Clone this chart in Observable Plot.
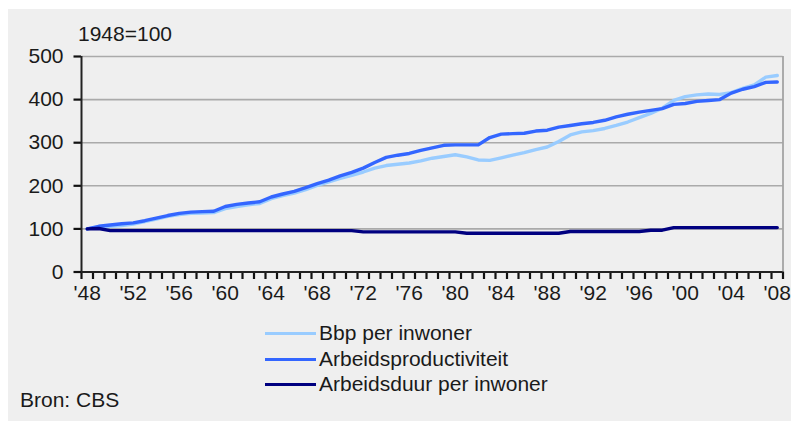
<!DOCTYPE html>
<html>
<head>
<meta charset="utf-8">
<script src="https://cdn.jsdelivr.net/npm/d3@7"></script>
<script src="https://cdn.jsdelivr.net/npm/@observablehq/plot@0.6"></script>
<style>
  html, body { margin: 0; padding: 0; background: #ffffff; }
  #wrap { position: relative; width: 791px; height: 421px; overflow: hidden; font-family: "Liberation Sans", Arial, sans-serif; color: #1a1a1a; }
  #panel { position: absolute; left: 8px; top: 9px; width: 783px; height: 412px; background: #efefef; }
  #subtitle { position: absolute; left: 78px; top: 22px; font-size: 21px; line-height: 24px; }
  #chart { position: absolute; left: 0; top: 0; }
  #legend { position: absolute; left: 265px; top: 320px; font-size: 21px; }
  .item { position: relative; height: 25.5px; line-height: 25.5px; padding-left: 54px; }
  .sw { position: absolute; left: 0; top: 12px; width: 51px; height: 3px; }
  #caption { position: absolute; left: 20px; top: 388px; font-size: 21px; line-height: 24px; }
</style>
</head>
<body>
<div id="wrap">
  <div id="panel"></div>
  <div id="subtitle">1948=100</div>
  <div id="chart"></div>
  <div id="legend"></div>
  <div id="caption">Bron: CBS</div>
</div>
<script>
const years = [1948,1949,1950,1951,1952,1953,1954,1955,1956,1957,1958,1959,1960,1961,1962,1963,1964,1965,1966,1967,1968,1969,1970,1971,1972,1973,1974,1975,1976,1977,1978,1979,1980,1981,1982,1983,1984,1985,1986,1987,1988,1989,1990,1991,1992,1993,1994,1995,1996,1997,1998,1999,2000,2001,2002,2003,2004,2005,2006,2007,2008];
const bbpPerInwoner = [100,104,106,108,111,117,123,129,133,136,137,138,147,152,156,159,170,177,183,191,201,209,217,224,232,241,247,250,253,258,264,268,272,267,260,259,265,271,277,284,290,303,318,325,328,333,340,348,358,368,380,398,407,411,413,412,416,426,434,452,456];
const arbeidsproductiviteit = [100,106,109,112,114,119,125,131,136,139,140,141,152,157,160,163,174,181,187,196,205,213,223,231,241,254,266,271,275,282,288,294,295,295,295,312,320,321,322,327,329,336,340,344,347,352,360,366,371,375,379,389,391,396,398,400,415,424,430,440,441];
const arbeidsduurPerInwoner = [100,101,96,96,96,96,96,96,96,96,96,96,96,96,96,96,96,96,96,96,96,96,96,96,93,93,93,93,93,93,93,93,93,90,90,90,90,90,90,90,90,90,94,94,94,94,94,94,94,97,97,103,103,103,103,103,103,103,103,103,103];
const seriesNames = ["Bbp per inwoner", "Arbeidsproductiviteit", "Arbeidsduur per inwoner"];
const seriesColors = ["#99ccff", "#3366ff", "#000080"];
const yTicks = [0, 100, 200, 300, 400, 500];
const xLabelYears = [1948,1952,1956,1960,1964,1968,1972,1976,1980,1984,1988,1992,1996,2000,2004,2008];
const xLabelTexts = ["'48","'52","'56","'60","'64","'68","'72","'76","'80","'84","'88","'92","'96","'00","'04","'08"];

const seriesValues = [bbpPerInwoner, arbeidsproductiviteit, arbeidsduurPerInwoner];
const rows = [];
seriesNames.forEach((name, i) => {
  years.forEach((yr, j) => rows.push({series: name, year: yr, value: seriesValues[i][j]}));
});
const boundaries = years.map(y => y - 0.5).concat([years[years.length - 1] + 0.5]);
const xDomain = [boundaries[0], boundaries[boundaries.length - 1]];
const labelMap = new Map(xLabelYears.map((y, i) => [y, xLabelTexts[i]]));

const W = 791, H = 310;
const plotW = W - 81 - 8.5, plotH = 271.5 - 56;
const xPerPx = (xDomain[1] - xDomain[0]) / plotW;   // data units per pixel (x)
const yPerPx = 500 / plotH;                          // data units per pixel (y)

const chart = Plot.plot({
  width: W,
  height: H,
  marginLeft: 81,
  marginRight: 8.5,
  marginTop: 56,
  marginBottom: H - 271.5,
  style: {background: "transparent", fontFamily: "'Liberation Sans', Arial, sans-serif", fontSize: "21px", color: "#1a1a1a", overflow: "visible"},
  x: {domain: xDomain, axis: null},
  y: {domain: [0, 500], axis: null},
  color: {domain: seriesNames, range: seriesColors},
  marks: [
    Plot.ruleY(yTicks.filter(d => d > 0), {stroke: "#aaaaaa", strokeWidth: 1.6}),
    Plot.ruleX([xDomain[1]], {stroke: "#9a9a9a", strokeWidth: 1.6}),
    // y tick marks (left of axis)
    Plot.ruleY(yTicks, {x1: xDomain[0] - 7.5 * xPerPx, x2: xDomain[0], stroke: "#111", strokeWidth: 2.2}),
    // x tick marks at category boundaries (below axis)
    Plot.ruleX(boundaries, {y1: 0, y2: -7.5 * yPerPx, stroke: "#111", strokeWidth: 2.2}),
    Plot.axisY({ticks: yTicks, label: null, tickSize: 0, tickPadding: 18, tickFormat: d => String(d), fontSize: 21}),
    Plot.axisX({ticks: xLabelYears, label: null, tickSize: 0, tickPadding: 13, tickFormat: d => labelMap.get(d), fontSize: 21}),
    Plot.lineY(rows, {x: "year", y: "value", z: "series", stroke: "series", strokeWidth: 3.4}),
    Plot.ruleX([xDomain[0]], {stroke: "#222", strokeWidth: 2}),
    Plot.ruleY([0], {stroke: "#222", strokeWidth: 2})
  ]
});
document.getElementById("chart").appendChild(chart);

const legend = document.getElementById("legend");
seriesNames.forEach((name, i) => {
  const item = document.createElement("div");
  item.className = "item";
  const sw = document.createElement("div");
  sw.className = "sw";
  sw.style.background = seriesColors[i];
  item.appendChild(sw);
  item.appendChild(document.createTextNode(name));
  legend.appendChild(item);
});
</script>
</body>
</html>
